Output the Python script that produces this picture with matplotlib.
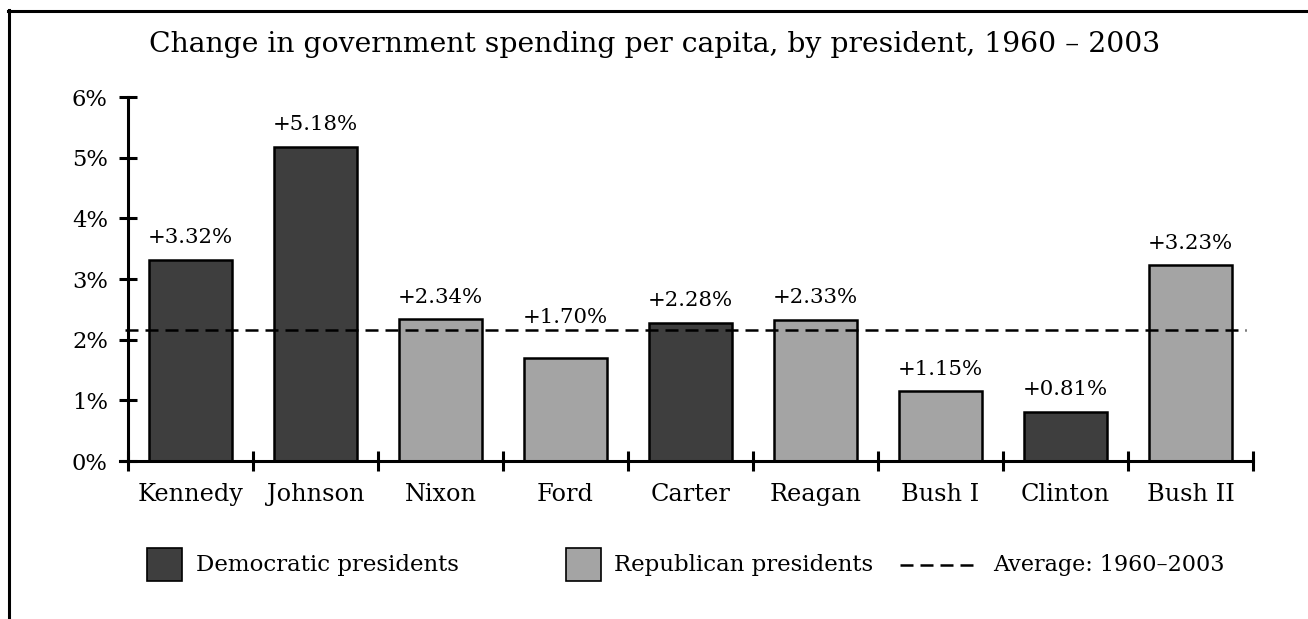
import matplotlib.pyplot as plt
from matplotlib.lines import Line2D
from matplotlib.patches import Rectangle

presidents = ["Kennedy", "Johnson", "Nixon", "Ford", "Carter",
              "Reagan", "Bush I", "Clinton", "Bush II"]
change_pct = [3.32, 5.18, 2.34, 1.70, 2.28, 2.33, 1.15, 0.81, 3.23]
party = ["D", "D", "R", "R", "D", "R", "R", "D", "R"]
average_pct = 2.16
y_ticks = [0, 1, 2, 3, 4, 5, 6]

DEM = "#3e3e3e"
REP = "#a4a4a4"

plt.rcParams["font.family"] = ["DejaVu Serif"]

W, H = 1308, 619
fig = plt.figure(figsize=(W / 100, H / 100), dpi=100)
ax = fig.add_axes([128 / W, 1 - 461 / H, 1125 / W, (461 - 97) / H])

x = list(range(len(presidents)))
colors = [DEM if p == "D" else REP for p in party]
ax.bar(x, change_pct, width=0.67, color=colors, edgecolor="black",
       linewidth=1.8, zorder=2)

for xi, v, name in zip(x, change_pct, presidents):
    # Ford's label sits above the average line in the original
    off = 22 if name == "Ford" else 9
    ax.annotate(f"+{v:.2f}%", (xi, v), xytext=(0, off), textcoords="offset points",
                ha="center", va="bottom", fontsize=15.3)

# average line, drawn over the bars
ax.plot([-0.525, 8.445], [average_pct, average_pct], color="black",
        linewidth=1.8, dashes=(5.2, 2.8), clip_on=False, zorder=3)

ax.set_xlim(-0.5, len(presidents) - 0.5)
ax.set_ylim(0, 6)

for s in ["top", "right"]:
    ax.spines[s].set_visible(False)
ax.spines["left"].set_linewidth(2.2)
ax.spines["bottom"].set_linewidth(2.2)
ax.spines["bottom"].set_bounds(-0.565, 8.5)

ax.set_yticks(y_ticks)
ax.set_yticklabels([f"{t}%" for t in y_ticks])
ax.tick_params(axis="y", direction="inout", length=13, width=2.2,
               labelsize=16.3, pad=8)

ax.set_xticks([i - 0.5 for i in range(len(presidents) + 1)])
ax.set_xticklabels([])
ax.tick_params(axis="x", which="major", direction="inout", length=14, width=2.2)
ax.set_xticks(x, minor=True)
ax.set_xticklabels(presidents, minor=True)
ax.tick_params(axis="x", which="minor", length=0, labelsize=17.3, pad=16)

fig.text(655 / W, 1 - 45 / H,
         "Change in government spending per capita, by president, 1960 \u2013 2003",
         ha="center", va="center", fontsize=20.3)

# legend
ly = 1 - 565 / H
fig.patches.append(Rectangle((147 / W, 1 - 581 / H), 35 / W, 33 / H,
                             transform=fig.transFigure, facecolor=DEM,
                             edgecolor="black", linewidth=1.2))
fig.text(196 / W, ly, "Democratic presidents", ha="left", va="center", fontsize=16.5)
fig.patches.append(Rectangle((566 / W, 1 - 581 / H), 35 / W, 33 / H,
                             transform=fig.transFigure, facecolor=REP,
                             edgecolor="black", linewidth=1.2))
fig.text(614 / W, ly, "Republican presidents", ha="left", va="center", fontsize=16.5)
fig.lines.append(Line2D([900 / W, 978 / W], [ly, ly], transform=fig.transFigure,
                        color="black", linewidth=1.8, dashes=(5.2, 2.8)))
fig.text(993 / W, ly, "Average: 1960\u20132003", ha="left", va="center", fontsize=16)

# frame around the chart (only top and left edges show)
fig.lines.append(Line2D([8 / W, 1.0], [1 - 11 / H, 1 - 11 / H],
                        transform=fig.transFigure, color="black", linewidth=2.2))
fig.lines.append(Line2D([9 / W, 9 / W], [1 - 10 / H, 0.0],
                        transform=fig.transFigure, color="black", linewidth=2.2))

fig.savefig("out.png", dpi=100)
